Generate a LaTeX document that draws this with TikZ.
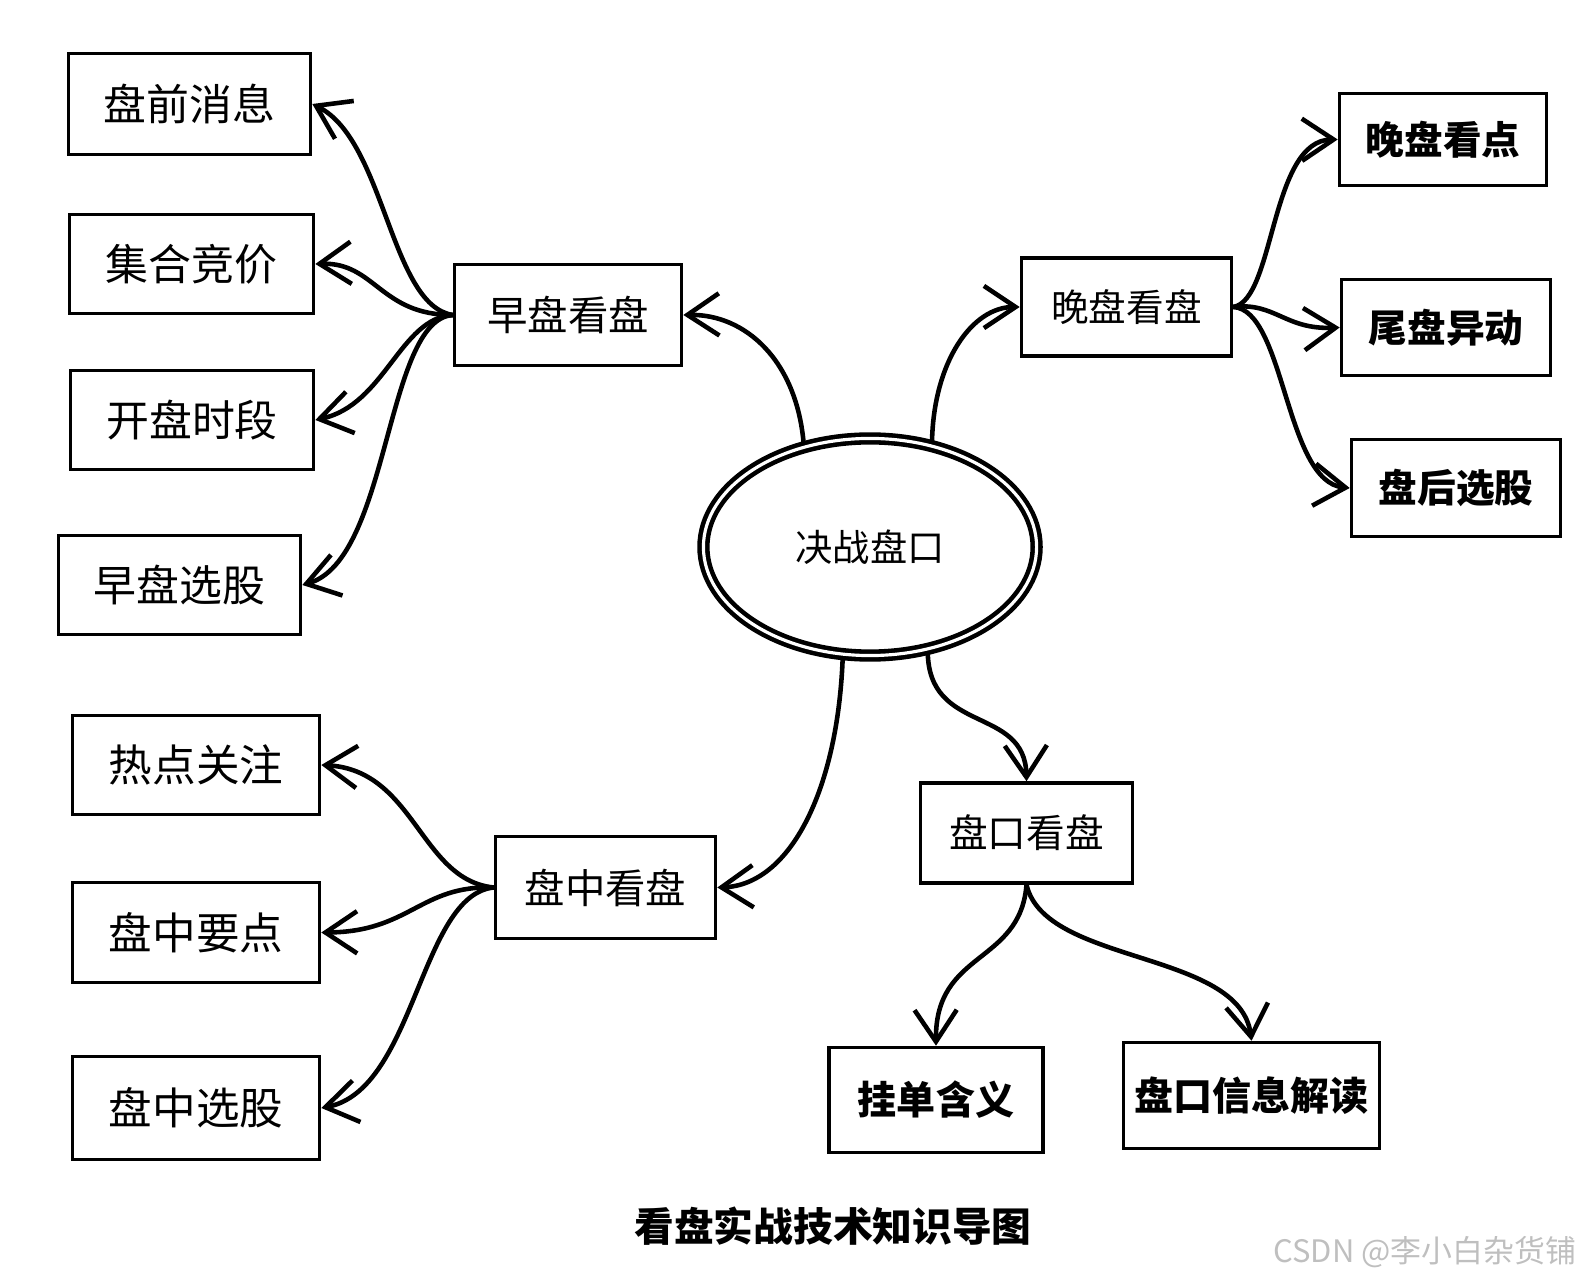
\documentclass[tikz,border=0pt]{standalone}
\usepackage{fontspec}
\setmainfont{Noto Sans CJK SC}
\newfontfamily\cjk{Noto Sans CJK SC}
\usetikzlibrary{arrows.meta,shapes.geometric}
\begin{document}
\begin{tikzpicture}[x=0.01cm,y=-0.01cm,
  box/.style={draw, line width=1pt, rectangle, inner sep=0pt, font=\cjk\fontsize{12.2}{14}\selectfont},
  rbox/.style={box, font=\cjk\bfseries\fontsize{11}{13}\selectfont},
  mbox/.style={box, font=\cjk\fontsize{11.5}{13}\selectfont},
  conn/.style={line width=1.3pt, -{Straight Barb[length=9pt,width=12pt,line width=1.3pt]}},
  ]
\useasboundingbox (0,0) rectangle (1577,1280);
% left upper group
\node[box, minimum width=2.42cm, minimum height=1.01cm] (a1) at (189.5,104) {盘前消息};
\node[box, minimum width=2.44cm, minimum height=0.99cm] (a2) at (191.5,264) {集合竞价};
\node[box, minimum width=2.43cm, minimum height=0.99cm] (a3) at (192,420) {开盘时段};
\node[box, minimum width=2.42cm, minimum height=0.99cm] (a4) at (179.5,585) {早盘选股};
\node[mbox, minimum width=2.27cm, minimum height=1.01cm] (zp) at (568,315) {早盘看盘};
% right group
\node[mbox, font=\cjk\fontsize{10.7}{12}\selectfont, minimum width=2.10cm, minimum height=0.98cm] (wp) at (1126.5,307) {晚盘看盘};
\node[rbox, minimum width=2.07cm, minimum height=0.92cm] (b1) at (1443,139.5) {晚盘看点};
\node[rbox, minimum width=2.09cm, minimum height=0.96cm] (b2) at (1446,327.5) {尾盘异动};
\node[rbox, minimum width=2.09cm, minimum height=0.97cm] (b3) at (1456,488) {盘后选股};
% center
\node[ellipse, draw, double, double distance=0.9pt, line width=1.3pt, inner sep=0pt,
      minimum width=3.33cm, minimum height=2.17cm, font=\cjk\fontsize{10.6}{12}\selectfont] (ell) at (870,547) {决战盘口};
% lower middle
\node[mbox, font=\cjk\fontsize{11}{13}\selectfont, minimum width=2.12cm, minimum height=1.00cm] (pk) at (1026.5,833) {盘口看盘};
\node[mbox, minimum width=2.20cm, minimum height=1.02cm] (pz) at (605.5,887.5) {盘中看盘};
\node[box, font=\cjk\fontsize{12.4}{14}\selectfont, minimum width=2.47cm, minimum height=0.99cm] (c1) at (196,765) {热点关注};
\node[box, font=\cjk\fontsize{12.4}{14}\selectfont, minimum width=2.47cm, minimum height=1.00cm] (c2) at (196,932.5) {盘中要点};
\node[box, font=\cjk\fontsize{12.4}{14}\selectfont, minimum width=2.47cm, minimum height=1.03cm] (c3) at (196,1108) {盘中选股};
\node[rbox, font=\cjk\bfseries\fontsize{11.1}{13}\selectfont, minimum width=2.14cm, minimum height=1.05cm] (d1) at (936,1100) {挂单含义};
\node[rbox, font=\cjk\bfseries\fontsize{11.1}{13}\selectfont, minimum width=2.56cm, minimum height=1.06cm] (d2) at (1251.5,1095.5) {盘口信息解读};
% captions
\node[font=\cjk\bfseries\fontsize{11.3}{13}\selectfont] (cap) at (833,1226) {看盘实战技术知识导图};
\node[font=\cjk\fontsize{8.8}{10}\selectfont, text=black!25] (wm) at (1425,1252) {CSDN @李小白杂货铺};
% connectors from 早盘看盘
\draw[conn] (zp.west) .. controls (390,305) and (385,140) .. (a1.east);
\draw[conn] (zp.west) .. controls (380,315) and (375,262) .. (a2.east);
\draw[conn] (zp.west) .. controls (400,318) and (385,405) .. (a3.east);
\draw[conn] (zp.west) .. controls (385,320) and (390,560) .. (a4.east);
% from center
\draw[conn] (ell.123) .. controls (797,360) and (745,314) .. (zp.east);
\draw[conn] (ell.59) .. controls (933,362) and (972,307) .. (wp.west);
\draw[conn] (ell.-61.5) .. controls (928,735) and (1025,705) .. (pk.north);
\draw[conn] (ell.-104.5) .. controls (838,790) and (790,885) .. (pz.east);
% from 晚盘看盘
\draw[conn] (wp.east) .. controls (1275,300) and (1270,140) .. (b1.west);
\draw[conn] (wp.east) .. controls (1275,302) and (1285,330) .. (b2.west);
\draw[conn] (wp.east) .. controls (1285,310) and (1285,482) .. (b3.west);
% from 盘中看盘
\draw[conn] (pz.west) .. controls (420,880) and (415,770) .. (c1.east);
\draw[conn] (pz.west) .. controls (420,885) and (410,932) .. (c2.east);
\draw[conn] (pz.west) .. controls (420,895) and (415,1090) .. (c3.east);
% from 盘口看盘
\draw[conn] (pk.south) .. controls (1020,965) and (935,950) .. (d1.north);
\draw[conn] (pk.south) .. controls (1045,965) and (1240,950) .. (d2.north);
\end{tikzpicture}
\end{document}
